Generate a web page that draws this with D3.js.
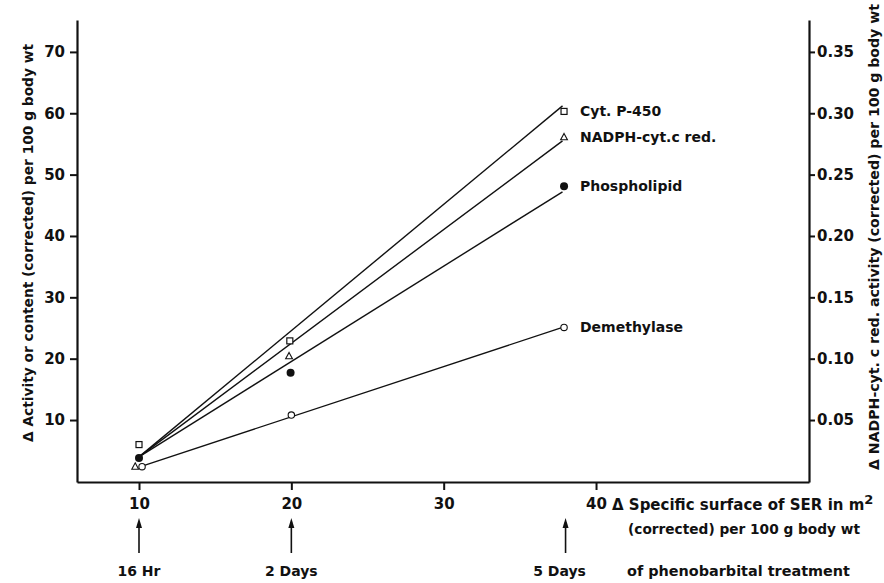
<!DOCTYPE html>
<html><head><meta charset="utf-8">
<script src="https://cdn.jsdelivr.net/npm/d3@7"></script>
<style>
body{margin:0;background:#fff;}
svg text{font-family:"DejaVu Sans",sans-serif;font-weight:bold;fill:#111;}
</style></head>
<body><svg id="c" width="884" height="583"></svg>
<script>
// ---- data ----
const seriesNames = ["Cyt. P-450", "NADPH-cyt.c red.", "Phospholipid", "Demethylase"];
const seriesSymbols = ["square", "triangle", "dot", "circle"];
const serX = [
  [10.0, 19.9, 37.9],
  [9.75, 19.85, 37.9],
  [10.0, 19.95, 37.9],
  [10.2, 20.0, 37.9]
];
const cytP450 = [6.0, 22.9, 60.3];
const nadphCytCRed = [2.4, 20.4, 56.1];
const phospholipid = [3.8, 17.7, 48.1];
const demethylase = [2.4, 10.8, 25.1];
const seriesValues = [cytP450, nadphCytCRed, phospholipid, demethylase];
// fitted lines: start (x, y) and end (x, y)
const fitStartX = [10.0, 10.0, 10.0, 10.2];
const fitStartY = [4.0, 4.0, 4.0, 2.5];
const fitEndX = [37.8, 37.8, 37.8, 37.8];
const fitEndY = [61.2, 55.5, 47.2, 25.1];
const leftTicks = [10, 20, 30, 40, 50, 60, 70];
const rightTicks = [0.05, 0.10, 0.15, 0.20, 0.25, 0.30, 0.35];
const xTicks = [10, 20, 30, 40];
const treatmentX = [10, 20, 38];
const treatmentLabels = ["16 Hr", "2 Days", "5 Days"];

// ---- scales ----
const svg = d3.select("#c");
const x = d3.scaleLinear().domain([5.93, 53.98]).range([77, 809]);
const y = d3.scaleLinear().domain([-0.1, 75.2]).range([482, 20]);
const y2 = d3.scaleLinear().domain([-0.1 / 200, 75.2 / 200]).range([482, 20]);

// ---- axes ----
const axL = svg.append("g").attr("transform", "translate(77,0)")
  .call(d3.axisLeft(y).tickValues(leftTicks).tickSize(7).tickPadding(5).tickSizeOuter(0));
const axR = svg.append("g").attr("transform", "translate(809,0)")
  .call(d3.axisRight(y2).tickValues(rightTicks).tickFormat(d3.format(".2f")).tickSize(6).tickPadding(2).tickSizeOuter(0));
const axB = svg.append("g").attr("transform", "translate(0,482)")
  .call(d3.axisBottom(x).tickValues(xTicks).tickSize(8).tickPadding(8).tickSizeOuter(0));
[axL, axR, axB].forEach(g => {
  g.select(".domain").attr("stroke", "#111").attr("stroke-width", 2.2);
  g.selectAll(".tick line").attr("stroke", "#111").attr("stroke-width", 2);
  g.selectAll(".tick text").style("font-size", "15px").attr("fill", "#111");
});

// ---- fitted lines ----
const line = d3.line().x(d => x(d[0])).y(d => y(d[1]));
seriesNames.forEach((n, i) => {
  svg.append("path")
    .attr("d", line([[fitStartX[i], fitStartY[i]], [fitEndX[i], fitEndY[i]]]))
    .attr("fill", "none").attr("stroke", "#111").attr("stroke-width", 1.4);
});

// ---- markers ----
seriesNames.forEach((n, i) => {
  const sym = seriesSymbols[i];
  seriesValues[i].forEach((v, j) => {
    const cx = x(serX[i][j]), cy = y(v);
    if (sym === "square") {
      svg.append("rect").attr("x", cx - 3).attr("y", cy - 3).attr("width", 6).attr("height", 6)
        .attr("fill", "#fff").attr("stroke", "#111").attr("stroke-width", 1.2);
    } else if (sym === "triangle") {
      svg.append("path").attr("d", `M${cx},${cy - 3.8}L${cx + 3.4},${cy + 2.6}L${cx - 3.4},${cy + 2.6}Z`)
        .attr("fill", "#fff").attr("stroke", "#111").attr("stroke-width", 1.1);
    } else if (sym === "dot") {
      svg.append("circle").attr("cx", cx).attr("cy", cy).attr("r", 4).attr("fill", "#111");
    } else {
      svg.append("circle").attr("cx", cx).attr("cy", cy).attr("r", 3.2)
        .attr("fill", "#fff").attr("stroke", "#111").attr("stroke-width", 1.1);
    }
  });
});

// ---- series labels ----
seriesNames.forEach((n, i) => {
  svg.append("text").attr("x", 580).attr("y", y(seriesValues[i][2]) + 5)
    .style("font-size", "14px").text(n);
});

// ---- axis titles ----
svg.append("text")
  .attr("transform", "translate(33,243) rotate(-90)")
  .attr("text-anchor", "middle").style("font-size", "14px")
  .attr("textLength", 398).attr("lengthAdjust", "spacingAndGlyphs")
  .text("\u0394 Activity or content (corrected) per 100 g body wt");
svg.append("text")
  .attr("transform", "translate(879,237) rotate(-90)")
  .attr("text-anchor", "middle").style("font-size", "14px")
  .attr("textLength", 466).attr("lengthAdjust", "spacingAndGlyphs")
  .text("\u0394 NADPH-cyt. c red. activity (corrected) per 100 g body wt");

const xt = svg.append("text").attr("x", 612).attr("y", 510).style("font-size", "15px");
xt.append("tspan").text("\u0394 Specific surface of SER in m");
xt.append("tspan").attr("dy", -6).style("font-size", "13px").text("2");
svg.append("text").attr("x", 860).attr("y", 534).attr("text-anchor", "end")
  .style("font-size", "14px").attr("textLength", 232).attr("lengthAdjust", "spacingAndGlyphs")
  .text("(corrected) per 100 g body wt");

// ---- treatment arrows ----
treatmentX.forEach((t, i) => {
  svg.append("line").attr("x1", x(t)).attr("x2", x(t)).attr("y1", 553).attr("y2", 522)
    .attr("stroke", "#111").attr("stroke-width", 1.6);
  svg.append("path").attr("d", `M${x(t) - 3},${528}L${x(t)},${518}L${x(t) + 3},${528}Z`).attr("fill", "#111");
  svg.append("text").attr("x", x(t) - (i === 2 ? 6 : 0)).attr("y", 576).attr("text-anchor", "middle")
    .style("font-size", "14px").text(treatmentLabels[i]);
});
svg.append("text").attr("x", 627).attr("y", 576).style("font-size", "14px")
  .attr("textLength", 223).attr("lengthAdjust", "spacingAndGlyphs")
  .text("of phenobarbital treatment");
</script></body></html>
